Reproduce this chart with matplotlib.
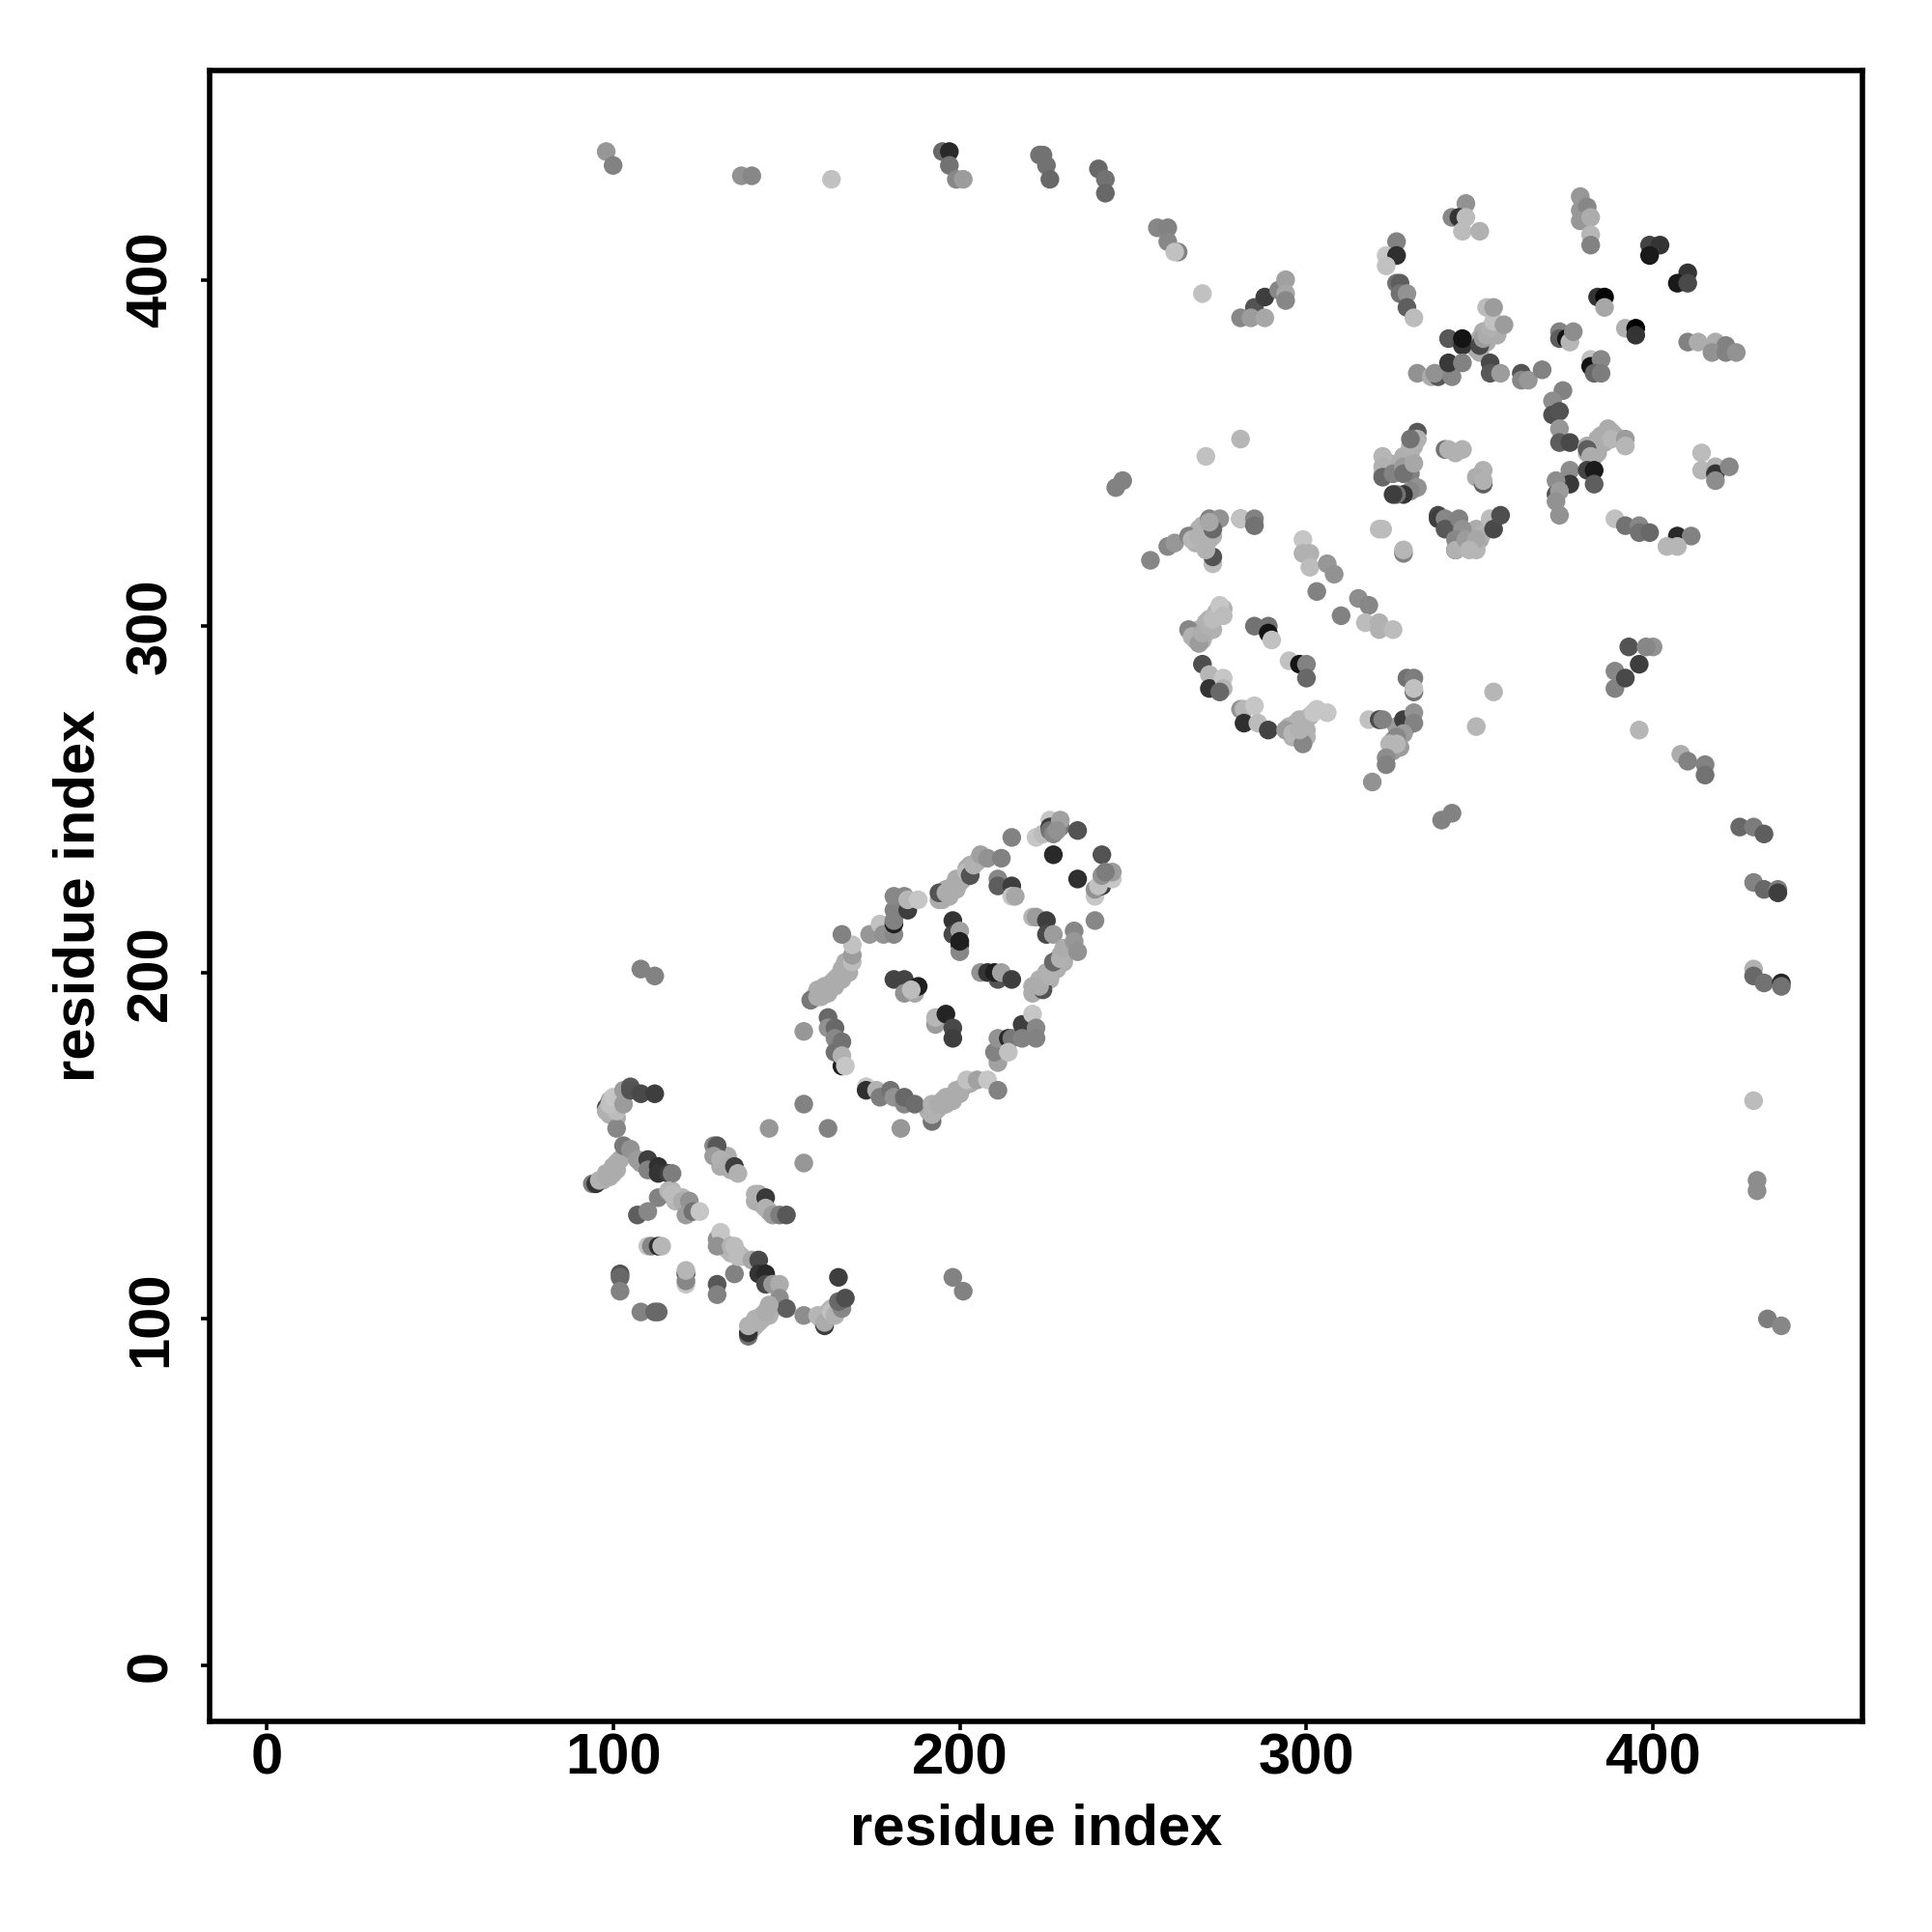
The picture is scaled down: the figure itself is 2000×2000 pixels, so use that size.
import numpy as np
import matplotlib
matplotlib.use("Agg")
import matplotlib.pyplot as plt

plt.rcParams['font.family'] = ['Liberation Sans', 'DejaVu Sans']

# contact points: x index, y index, grey level (0-255)
x_fill = [97,98,99,100,100,101,102,99,100,101,102,101,99,
          131,132,133,134,141,143,145,142,132,133,134,136,137,
          140,141,142,143,144,145,146,141,160,161,162,163,165,117,119,118,120,
          158,159,160,161,162,163,164,165,166,167,168,
          191,193,194,195,196,197,198,199,200,201,203,
          195,196,197,198,199,200,201,202,203,205,
          222,223,224,225,226,227,228,229,230,231,
          268,269,270,271,271,272,273,274,275,276,
          295,296,297,297,298,299,300,301,300,
          268,269,270,268,271,272,273,
          325,327,326,328,329,327,325,329,
          349,350,351,350,352,353,354,355,
          323,324,326,327,328,329,330,331,
          344,346,348,350,352,349,347,345,
          381,383,384,386,385,388,383,389]
y_fill = [140,142,141,144,142,143,146,159,161,162,163,158,163,
          144,145,147,143,134,133,131,136,122,120,119,119,118,
          97,98,99,100,101,101,103,100,100,101,102,103,103,137,135,134,135,
          193,195,193,196,194,197,196,199,198,201,200,
          160,160,161,163,162,164,163,165,165,167,168,
          221,224,222,225,224,226,227,230,231,232,
          195,198,197,200,198,202,201,205,203,206,
          296,299,296,298,301,302,299,304,303,305,
          271,268,272,268,273,271,270,274,268,
          324,328,327,326,327,325,326,
          267,269,271,272,271,265,264,273,
          380,383,385,379,382,385,386,384,
          345,347,345,347,349,348,350,352,
          325,327,323,325,328,328,323,323,
          350,352,350,353,355,356,349,355]
g_fill = [165]*13 + [165]*4 + [165]*4 + [175]*5 + [170]*8 + [175]*5 + [175]*4 + \
         [165]*11 + [165]*11 + [165]*10 + [168]*10 + [170]*10 + [170]*9 + \
         [170]*7 + [150]*8 + [165]*8 + [168]*8 + [165]*8 + [165]*8

x_low = [101,98,98,101,99,100,103,103,105,105,108,112,
         94,95,96,98,99,100,101,103,105,107,108,110,110,113,113,116,117,
         113,107,110,116,117,120,122,121,123,125,
         110,111,113,114,102,102,102,108,112,113,
         121,121,121,121,130,130,135]
y_low = [155,161,160,160,162,164,162,166,167,166,165,165,
         139,139,140,141,142,143,145,150,149,146,145,146,143,144,142,142,142,
         135,130,131,137,136,134,134,130,131,131,
         121,121,121,121,113,112,108,102,102,102,
         110,113,111,114,110,107,113]
g_low = [130,70,170,180,185,190,150,150,85,80,70,60,
         120,50,170,165,165,165,165,115,140,150,150,60,125,45,50,60,120,
         125,90,130,175,180,165,140,150,110,190,
         190,130,45,175,80,100,125,125,100,100,
         190,60,130,175,85,125,125]

x_chain = [129,130,129,131,133,135,136,141,144,144,146,148,150,
           155,145,162,155,
           130,131,130,134,135,136,140,142,142,144,144,146,148,148,150,
           139,139,139,141,143,144,145,
           155,159,161,161,163,164,166,165,165,167,
           198,201,108,112]
y_chain = [150,150,147,146,144,144,142,136,135,132,130,130,130,
           162,155,155,145,
           123,125,121,121,121,118,117,117,113,113,110,110,110,106,103,
           95,96,98,99,101,102,104,
           101,101,98,99,102,101,103,105,112,106,
           112,108,201,199]
g_chain = [130,85,150,170,165,60,170,170,55,170,150,120,85,
           125,145,125,145,
           140,190,140,170,180,180,160,70,50,40,70,145,165,135,90,
           110,50,170,170,170,165,165,
           135,175,60,165,185,170,130,100,60,75,
           125,125,125,125]

x_loop = [155,157,159,161,162,164,166,167,169,169,169,166,
          162,162,164,164,166,164,166,166,167,
          173,173,176,177,180,181,184,184,187,
          192,192,192,194,196,199,202,205,208,211,183,
          211,210,211,214,215,214,218,218,221,222,222]
y_loop = [183,192,193,195,196,198,201,203,203,205,208,211,
          187,184,184,181,180,177,173,176,173,
          167,166,166,164,166,164,162,164,162,
          157,159,162,162,164,166,169,169,169,166,155,
          174,177,181,181,181,177,185,181,188,184,181]
g_loop = [145,115,165,165,165,165,165,165,180,150,185,125,
          100,140,100,130,110,110,30,170,190,
          190,45,170,120,110,140,130,100,105,
          110,170,170,165,165,165,185,155,190,125,145,
          155,125,140,40,115,185,60,125,190,130,125]

x_inner = [181,184,184,187,188,186,193,193,196,198,198,
           198,198,200,200,200,200,206,208,211,210,212,215]
y_inner = [198,198,194,194,196,195,185,187,188,184,181,
           215,211,212,208,206,209,200,200,198,200,200,198]
g_inner = [65,65,140,160,30,180,150,175,35,70,60,
           50,70,155,50,130,30,140,50,80,30,155,60]

x_upper = [194,194,196,197,199,202,203,204,206,208,212,215,211,211,215,215,216,
           174,177,178,181,181,181,181,181,184,185,185,188,
           221,222,225,225,227,233,239,
           221,221,224,223,226,227,227,229,230,233,234]
y_upper = [221,223,223,224,227,229,228,231,234,233,233,239,227,225,225,222,222,
           211,214,211,211,214,215,218,222,222,218,221,221,
           216,216,215,211,211,212,215,
           194,196,195,196,199,201,203,204,207,209,206]
g_upper = [165,80,165,165,165,180,80,170,155,140,125,125,130,90,60,190,160,
           145,185,140,130,30,125,125,130,130,60,175,190,
           175,150,60,70,150,130,130,
           165,165,80,165,170,170,100,170,165,145,140]

x_head = [222,224,226,226,226,227,229,229,228,234,227,241,234,
          239,239,241,240,244,241,244,242]
y_head = [239,240,244,242,241,240,242,244,241,241,234,234,227,
          222,224,225,225,227,228,229,229]
g_head = [190,180,190,60,110,130,115,155,140,80,40,80,45,
          190,140,60,185,190,140,150,120]

x_top = [98,100,137,140,163,195,197,197,199,201,223,224,225,226,240,242,242,
         257,260,260,263,262,270,
         281,285,284,288,288,292,294,294,294]
y_top = [437,433,430,430,429,437,437,433,429,429,436,436,433,429,432,429,425,
         415,415,411,408,408,396,
         389,392,389,389,395,397,400,396,394]
g_top = [145,125,140,130,185,100,40,110,130,150,110,110,110,100,100,110,100,
         130,125,130,125,185,185,
         130,80,150,160,60,130,155,160,130]

x_mid = [255,260,262,266,267,269,270,272,275,273,272,273,273,271,
         281,281,285,285,
         299,299,301,301,306,308,303,321,322,328,328,
         315,318,310,317,321,321,325,
         281,271,245,247]
y_mid = [319,323,324,326,325,326,329,331,331,328,330,318,320,322,
         331,331,331,329,
         325,321,321,317,318,315,310,328,328,321,322,
         308,306,303,301,301,299,299,
         354,349,340,342]
g_mid = [130,130,145,125,175,170,170,125,140,100,160,180,80,170,
         125,185,125,110,
         190,170,170,180,145,140,125,180,180,125,175,
         135,130,125,180,170,170,180,
         175,185,125,125]

x_ring = [266,267,269,270,272,273,275,276,
          270,272,272,276,276,275,
          285,289,289,290,295,298,300,300,
          281,282,285,282,286,289,
          294,296,299,298,300,302,303,306]
y_ring = [299,297,295,298,300,302,306,303,
          289,286,282,285,282,281,
          300,300,298,296,290,289,289,285,
          276,276,277,272,272,270,
          270,269,266,270,273,275,276,275]
g_ring = [130,170,150,165,170,180,190,180,
          75,175,50,190,175,100,
          110,110,20,185,185,20,125,100,
          140,175,190,45,180,65,
          150,175,130,170,170,190,190,190]

x_fork = [329,331,331,331,
          318,321,321,322,328,331,331,328,326,326,324,323,323,319,
          339,342,349,354]
y_fork = [285,285,281,282,
          273,273,273,273,273,275,272,269,268,266,266,262,260,255,
          244,246,271,281]
g_fork = [110,120,110,185,
          185,170,70,125,60,140,125,150,130,175,175,135,125,140,
          125,125,175,175]

x_far = [396,389,389,392,396,393,400,398,
         408,410,415,415,425,429,432,429,432,436,436,
         429,429,432,437,437,429,430,430,433,437]
y_far = [270,282,287,285,289,294,294,294,
         263,261,260,257,242,242,240,226,224,224,223,
         201,199,197,197,196,163,140,137,100,98]
g_far = [175,125,130,70,60,80,140,130,
         165,125,125,110,100,120,90,125,100,120,60,
         170,100,110,35,110,180,135,135,120,130]

x_up1 = [326,323,326,323,326,327,327,329,329,331,
         346,342,344,346,345,350,
         341,345,345,350,351,352,353,354,357,352,354,
         332,336,338,337,342,341,345]
y_up1 = [411,407,407,404,399,399,396,396,392,389,
         422,418,418,418,414,414,
         383,381,383,381,383,384,386,388,387,392,392,
         373,372,372,373,372,376,376]
g_up1 = [125,190,45,185,110,90,110,140,90,180,
         140,130,50,180,180,170,
         85,50,20,70,150,165,170,185,150,180,150,
         140,165,85,140,130,55,125]

x_up2 = [353,353,356,362,362,364,368,
         379,379,381,379,382,382,382,
         399,402,399,410,407,410,384,386,386,
         392,395,395,373,373,375,376,377,
         382,382,385,383,385,
         410,413,418,421,417,421,424]
y_up2 = [376,373,373,373,371,371,374,
         424,420,421,417,418,413,410,
         410,410,407,402,399,399,395,395,392,
         386,386,384,385,383,383,382,385,
         377,375,377,373,373,
         382,382,382,381,379,379,379]
g_up2 = [70,85,150,80,130,145,125,
         145,145,130,145,165,175,125,
         65,50,25,50,25,70,50,5,160,
         170,0,50,125,90,20,175,135,
         185,20,130,100,120,
         125,165,165,125,140,125,140]

x_right = [374,371,371,373,373,373,376,
           381,384,387,388,392,392,381,382,
           376,376,381,383,383,372,372,373,372,373,
           414,414,418,418,418,422,
           389,392,396,396,399,407,411,404,407]
y_right = [368,365,361,362,357,353,353,
           352,354,357,354,354,352,351,349,
           345,341,345,345,341,342,338,339,336,332,
           350,345,346,344,342,346,
           331,329,329,327,327,326,326,323,323]
g_right = [125,135,75,80,145,90,70,
           165,165,165,175,150,175,90,165,
           135,55,65,25,90,135,80,150,140,140,
           180,175,170,50,135,130,
           185,110,130,110,100,40,125,175,175]

x_coil = [322,322,322,322,325,328,330,328,331,330,332,
          332,330,332,330,328,326,325,
          340,341,343,345,
          351,349,351,351,
          338,338,340,340,344,345,343,343,343,346,349,351,353,353,354,356,349,347]
y_coil = [349,346,344,343,344,346,344,344,347,352,356,
          354,354,340,339,338,338,338,
          351,351,350,351,
          345,343,341,342,
          332,331,331,328,331,328,325,322,322,325,322,327,329,331,328,332,325,322]
g_coil = [175,170,170,100,125,150,125,110,160,170,85,
          170,110,140,130,50,110,60,
          110,170,170,170,
          170,165,90,170,
          70,60,130,85,125,140,130,50,170,150,175,170,170,180,70,75,160,175]

x_sets = [x_fill, x_low, x_chain, x_loop, x_inner, x_upper, x_head, x_top, x_mid, x_ring,
          x_fork, x_far, x_up1, x_up2, x_right, x_coil]
y_sets = [y_fill, y_low, y_chain, y_loop, y_inner, y_upper, y_head, y_top, y_mid, y_ring,
          y_fork, y_far, y_up1, y_up2, y_right, y_coil]
g_sets = [g_fill, g_low, g_chain, g_loop, g_inner, g_upper, g_head, g_top, g_mid, g_ring,
          g_fork, g_far, g_up1, g_up2, g_right, g_coil]

ticks = [0, 100, 200, 300, 400]

fig = plt.figure(figsize=(20, 20), dpi=100)
ax = fig.add_axes([0.1085, 0.109, 0.8555, 0.8545])

# scatter complains by itself if a cluster's lists differ in length
for xs, ys, gs in zip(x_sets, y_sets, g_sets):
    ax.scatter(xs, ys, c=gs, cmap='gray', vmin=0, vmax=245, s=195, linewidths=0)

ax.set_xlim(-16.4, 460.4)
ax.set_ylim(-16.2, 460.4)
ax.set_xticks(ticks)
ax.set_yticks(ticks)
ax.tick_params(width=2.6, length=6.5, labelsize=43)
ax.tick_params(axis='x', pad=2)
ax.tick_params(axis='y', pad=17)
for lab in ax.get_xticklabels():
    lab.set_fontweight('bold')
for lab in ax.get_yticklabels():
    lab.set_fontweight('bold')
    lab.set_rotation(90)
    lab.set_verticalalignment('center')
for sp in ax.spines.values():
    sp.set_linewidth(4)

ax.set_xlabel("residue index", fontsize=43, fontweight='bold', labelpad=13)
ax.set_ylabel("residue index", fontsize=43, fontweight='bold', labelpad=14)

fig.savefig("out.png", dpi=100)
